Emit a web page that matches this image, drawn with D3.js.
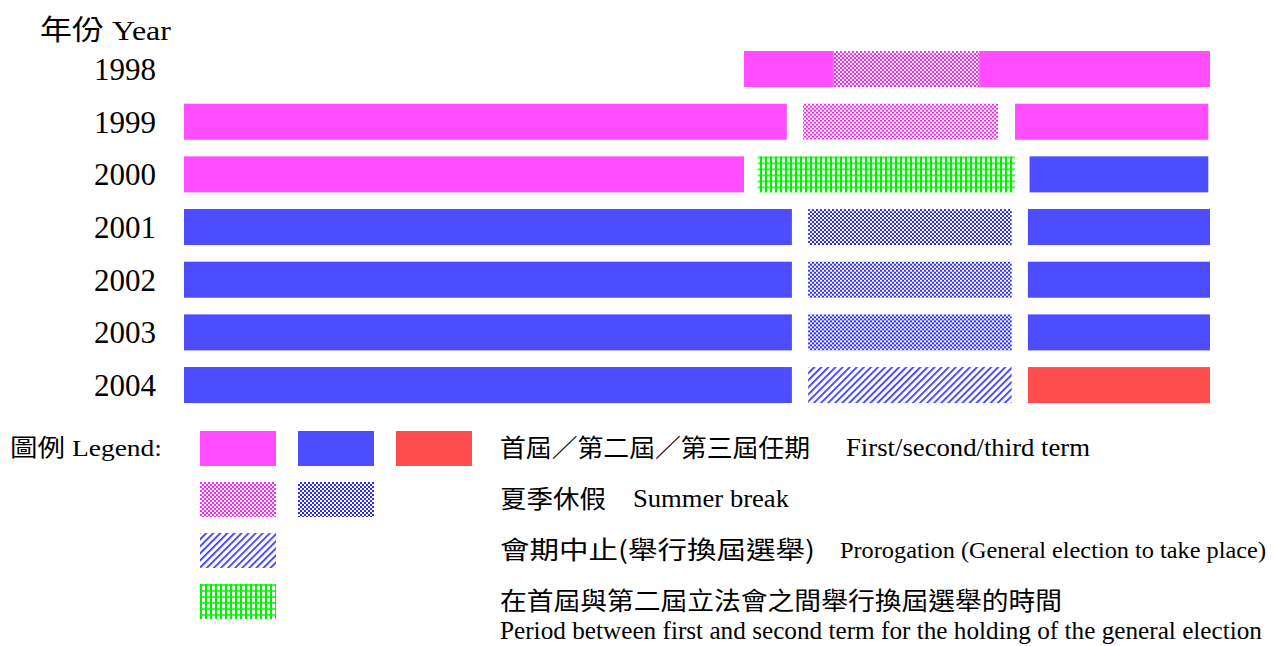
<!DOCTYPE html>
<html>
<head>
<meta charset="utf-8">
<script src="https://cdn.jsdelivr.net/npm/d3@7"></script>
<style>
    body { margin: 0; background: #fff; }
    svg { display: block; }
    text { font-family: "Liberation Serif", "Noto Sans CJK TC", serif; fill: #000; }
    .cjk { font-family: "Noto Sans CJK TC", sans-serif; }
</style>
</head>
<body>
<svg id="chart"></svg>
<script>
// months from 1 Jan (0) to 31 Dec (12)
const years = ['1998', '1999', '2000', '2001', '2002', '2003', '2004'];
const row1998 = [['term1', 6.55, 7.6], ['break1', 7.6, 9.3], ['term1', 9.3, 12]];
const row1999 = [['term1', 0, 7.05], ['break1', 7.24, 9.52], ['term1', 9.72, 11.98]];
const row2000 = [['term1', 0, 6.55], ['election', 6.71, 9.72], ['term2', 9.89, 11.98]];
const row2001 = [['term2', 0, 7.11], ['break2', 7.3, 9.68], ['term2', 9.87, 12]];
const row2002 = [['term2', 0, 7.11], ['break2', 7.3, 9.68], ['term2', 9.87, 12]];
const row2003 = [['term2', 0, 7.11], ['break2', 7.3, 9.68], ['term2', 9.87, 12]];
const row2004 = [['term2', 0, 7.11], ['prorogation', 7.3, 9.68], ['term3', 9.87, 12]];
const rows = [row1998, row1999, row2000, row2001, row2002, row2003, row2004];

const legendKinds = [['term1', 'term2', 'term3'], ['break1', 'break2'], ['prorogation'], ['election']];
const legendZh = ['首屆／第二屆／第三屆任期', '夏季休假', '會期中止(舉行換屆選舉)', '在首屆與第二屆立法會之間舉行換屆選舉的時間'];
const legendEn = ['First/second/third term', 'Summer break', 'Prorogation (General election to take place)',
    'Period between first and second term for the holding of the general election'];

const width = 1275;
const height = 646;

const svg = d3.select('#chart')
    .attr('width', width)
    .attr('height', height);

const defs = svg.append('defs');

// checker patterns for the summer break
function checker(id, color) {
    const p = defs.append('pattern')
        .attr('id', id)
        .attr('patternUnits', 'userSpaceOnUse')
        .attr('width', 4)
        .attr('height', 4);
    p.append('rect').attr('width', 4).attr('height', 4).attr('fill', '#fff');
    p.append('rect').attr('x', 0).attr('y', 0).attr('width', 2).attr('height', 2).attr('fill', color);
    p.append('rect').attr('x', 2).attr('y', 2).attr('width', 2).attr('height', 2).attr('fill', color);
}
checker('break1', '#ff22ff');
checker('break2', '#2a2aff');

const diag = defs.append('pattern')
    .attr('id', 'prorogation')
    .attr('patternUnits', 'userSpaceOnUse')
    .attr('width', 5)
    .attr('height', 5)
    .attr('patternTransform', 'rotate(45)');
diag.append('rect').attr('width', 5).attr('height', 5).attr('fill', '#fff');
diag.append('rect').attr('x', 0).attr('y', 0).attr('width', 1.8).attr('height', 5).attr('fill', '#3d3dff');

const grid = defs.append('pattern')
    .attr('id', 'election')
    .attr('patternUnits', 'userSpaceOnUse')
    .attr('width', 5)
    .attr('height', 6);
grid.append('rect').attr('width', 5).attr('height', 6).attr('fill', '#fff');
grid.append('rect').attr('x', 0).attr('y', 0).attr('width', 5).attr('height', 2).attr('fill', '#33ff33');
grid.append('rect').attr('x', 0).attr('y', 0).attr('width', 2).attr('height', 6).attr('fill', '#00f000');

const fills = {
    term1: '#ff4dff',
    term2: '#4d4dff',
    term3: '#ff4d4d',
    break1: 'url(#break1)',
    break2: 'url(#break2)',
    prorogation: 'url(#prorogation)',
    election: 'url(#election)'
};

const x = d3.scaleLinear()
    .domain([0, 12])
    .range([184, 1210]);

const y = d3.scaleBand()
    .domain(years)
    .range([42.7, 411.4])
    .paddingInner(0.316)
    .paddingOuter(0.158);

svg.append('text')
    .attr('x', 40)
    .attr('y', 40)
    .attr('textLength', 131)
    .attr('lengthAdjust', 'spacingAndGlyphs')
    .style('font-size', '28px')
    .text('年份 Year');

const rowG = svg.selectAll('g.row')
    .data(rows)
    .join('g')
        .classed('row', true)
        .attr('transform', (d, i) => `translate(0,${y(years[i])})`);

rowG.append('text')
    .attr('x', 156)
    .attr('y', y.bandwidth() / 2 + 11)
    .attr('text-anchor', 'end')
    .style('font-size', '31px')
    .text((d, i) => years[i]);

rowG.selectAll('rect')
    .data(d => d)
    .join('rect')
        .attr('x', d => x(d[1]))
        .attr('width', d => x(d[2]) - x(d[1]))
        .attr('height', y.bandwidth())
        .attr('fill', d => fills[d[0]]);

// legend
const legend = svg.append('g').attr('class', 'legend');

legend.append('text')
    .attr('x', 10)
    .attr('y', 456)
    .attr('textLength', 152)
    .attr('lengthAdjust', 'spacingAndGlyphs')
    .style('font-size', '24px')
    .text('圖例  Legend:');

const legendY = d3.scaleBand()
    .domain(d3.range(legendKinds.length))
    .range([431, 619])
    .paddingInner(0.314);

const lg = legend.selectAll('g.item')
    .data(legendKinds)
    .join('g')
        .classed('item', true)
        .attr('transform', (d, i) => `translate(0,${legendY(i)})`);

lg.selectAll('rect')
    .data(d => d)
    .join('rect')
        .attr('x', (d, i) => 200 + i * 98)
        .attr('width', 76)
        .attr('height', legendY.bandwidth())
        .attr('fill', d => fills[d]);

// text widths as measured on the reference
const zhWidth = [310, 106, 315, 562];
const enX = [846, 633, 840, 500];
const enWidth = [244, 156, 426, 762];
const enSize = [26, 26, 24, 25];

lg.append('text')
    .attr('class', 'cjk')
    .attr('x', 500)
    .attr('y', 26)
    .attr('textLength', (d, i) => zhWidth[i])
    .attr('lengthAdjust', 'spacingAndGlyphs')
    .style('font-size', '25px')
    .text((d, i) => legendZh[i]);

lg.append('text')
    .attr('x', (d, i) => enX[i])
    .attr('y', (d, i) => i === 3 ? 55 : 25)
    .attr('textLength', (d, i) => enWidth[i])
    .attr('lengthAdjust', 'spacingAndGlyphs')
    .style('font-size', (d, i) => enSize[i] + 'px')
    .text((d, i) => legendEn[i]);
</script>
</body>
</html>
